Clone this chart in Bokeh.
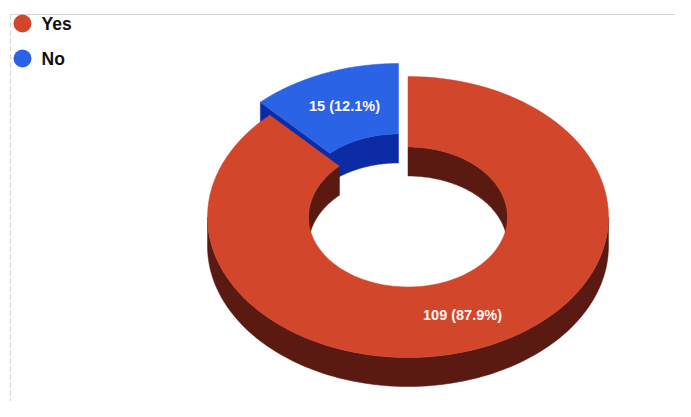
import numpy as np
from bokeh.plotting import figure
from bokeh.models import Range1d
from bokeh.core.properties import value
from bokeh.embed import file_html
from bokeh.resources import INLINE

categories = ["Yes", "No"]
counts = [109, 15]
percent_labels = ["87.9%", "12.1%"]

top_colors = ["#d2462c", "#2a63e6"]
wall_colors = ["#5a1a12", "#0c2ca6"]

FONT = value("Liberation Sans")
RX, RY, IRX, IRY, DEPTH = 200.5, 140.5, 99.5, 70, 29
CENTERS = [(407.5, 216.5), (398, 203.5)]

p = figure(width=675, height=401, output_backend="svg", toolbar_location=None,
           x_range=Range1d(0, 675), y_range=Range1d(401, 0),
           min_border=0, background_fill_color="#ffffff", border_fill_color="#ffffff",
           outline_line_color=None)
p.axis.visible = False
p.grid.visible = False

# faint scanned frame
p.line([10, 675], [14, 14], line_color="#d9d5d0", line_width=1.2)
p.line([10, 10], [14, 401], line_color="#d9d5d0", line_width=1.2, line_dash="5 3")


def arc(cx, cy, rx, ry, a0, a1, dy=0):
    t = np.radians(np.linspace(a0, a1, 120))
    return cx + rx * np.sin(t), cy - ry * np.cos(t) + dy


def band(cx, cy, rx, ry, a0, a1, color):
    x1, y1 = arc(cx, cy, rx, ry, a0, a1)
    x2, y2 = arc(cx, cy, rx, ry, a1, a0, DEPTH)
    p.patch(np.r_[x1, x2], np.r_[y1, y2], fill_color=color, line_color=color, line_width=0.5)


def top(cx, cy, a0, a1, color):
    x1, y1 = arc(cx, cy, RX, RY, a0, a1)
    x2, y2 = arc(cx, cy, IRX, IRY, a1, a0)
    p.patch(np.r_[x1, x2], np.r_[y1, y2], fill_color=color, line_color=color, line_width=0.5)


total = sum(counts)
no_sweep = 360 * counts[1] / total
yes_end = 360 * counts[0] / total

# "No" slice, pulled out, sweeping back from 12 o'clock
bx, by = CENTERS[1]
t_edge = np.radians(-no_sweep)
xo, yo = bx + RX * np.sin(t_edge), by - RY * np.cos(t_edge)
xi, yi = bx + IRX * np.sin(t_edge), by - IRY * np.cos(t_edge)
p.patch([xo, xi, xi, xo], [yo, yi, yi + DEPTH, yo + DEPTH],
        fill_color=wall_colors[1], line_color=wall_colors[1], line_width=0.5)
band(bx, by, IRX, IRY, -no_sweep, 0, wall_colors[1])
top(bx, by, -no_sweep, 0, top_colors[1])

# "Yes" slice
rx0, ry0 = CENTERS[0]
band(rx0, ry0, RX, RY, 90, 270, wall_colors[0])
band(rx0, ry0, IRX, IRY, 0, 90, wall_colors[0])
band(rx0, ry0, IRX, IRY, 270, yes_end, wall_colors[0])
top(rx0, ry0, 0, yes_end, top_colors[0])

# slice labels
labels = [f"{c} ({s})" for c, s in zip(counts, percent_labels)]
p.text([462, 344], [314, 105], text=labels, text_color="#fff4ee",
       text_font=FONT, text_font_style="bold", text_font_size="14.5px",
       text_align="center", text_baseline="middle")

# legend
p.scatter([22, 22], [23, 58], size=18, fill_color=top_colors, line_color=None)
p.text([41, 41], [23, 58], text=categories, text_color="#111111",
       text_font=FONT, text_font_style="bold", text_font_size="17.5px",
       text_align="left", text_baseline="middle")

open("out.html", "w").write(file_html(p, INLINE))
